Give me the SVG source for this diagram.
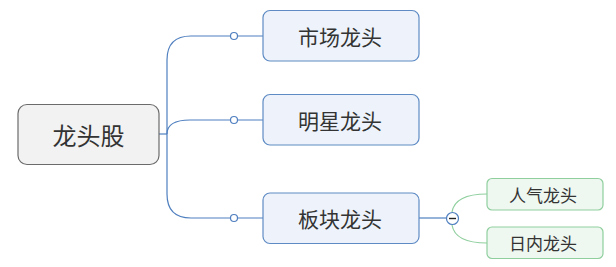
<svg xmlns="http://www.w3.org/2000/svg" width="616" height="267" viewBox="0 0 616 267">
<style>
.t{font-family:"Noto Sans CJK SC","Noto Sans",sans-serif;fill:#333;text-anchor:middle;dominant-baseline:central}
.root{fill:#f2f2f2;stroke:#6b6b6b;stroke-width:1.2}
.main{fill:#eef3fb;stroke:#5f8bc4;stroke-width:1.2}
.sub{fill:#eef7f0;stroke:#8fcf9e;stroke-width:1.2}
.cb{fill:none;stroke:#4f7fbf;stroke-width:1.2}
.cg{fill:none;stroke:#8fcf9e;stroke-width:1.2}
.dot{fill:#fff;stroke:#4f7fbf;stroke-width:1.2}
</style>
<g id="connectors">
<path class="cb" d="M159 134H167"/>
<path class="cb" d="M167 134V60Q167 36 191 36H263"/>
<path class="cb" d="M167 134Q167 120 190 120H263"/>
<path class="cb" d="M167 134V194Q167 218 191 218H263"/>
<circle class="dot" cx="234" cy="36" r="3.5"/>
<circle class="dot" cx="234" cy="120" r="3.5"/>
<circle class="dot" cx="234" cy="218" r="3.5"/>
<path class="cb" d="M419 218H446"/>
<path class="cg" d="M452 212Q455 194 487 194"/>
<path class="cg" d="M452 225Q455 243 487 243"/>
<circle class="dot" cx="452.5" cy="218.5" r="6"/>
<path d="M449 218.5H456" stroke="#222" stroke-width="1.4"/>
</g>
<g id="root">
<rect class="root" x="18" y="104.5" width="141" height="60" rx="9"/>
<text class="t" x="88.5" y="134.5" font-size="24">龙头股</text>
</g>
<g id="n1">
<rect class="main" x="263" y="10.5" width="156" height="50.5" rx="7"/>
<text class="t" x="340" y="36" font-size="21">市场龙头</text>
</g>
<g id="n2">
<rect class="main" x="263" y="94.5" width="156" height="50.5" rx="7"/>
<text class="t" x="340" y="120" font-size="21">明星龙头</text>
</g>
<g id="n3">
<rect class="main" x="263" y="193" width="156" height="50.5" rx="7"/>
<text class="t" x="340" y="218" font-size="21">板块龙头</text>
</g>
<g id="n4">
<rect class="sub" x="487" y="178.5" width="116" height="31.5" rx="5"/>
<text class="t" x="543" y="194" font-size="17">人气龙头</text>
</g>
<g id="n5">
<rect class="sub" x="487" y="227" width="116" height="31.5" rx="5"/>
<text class="t" x="543" y="242.5" font-size="17">日内龙头</text>
</g>
</svg>
